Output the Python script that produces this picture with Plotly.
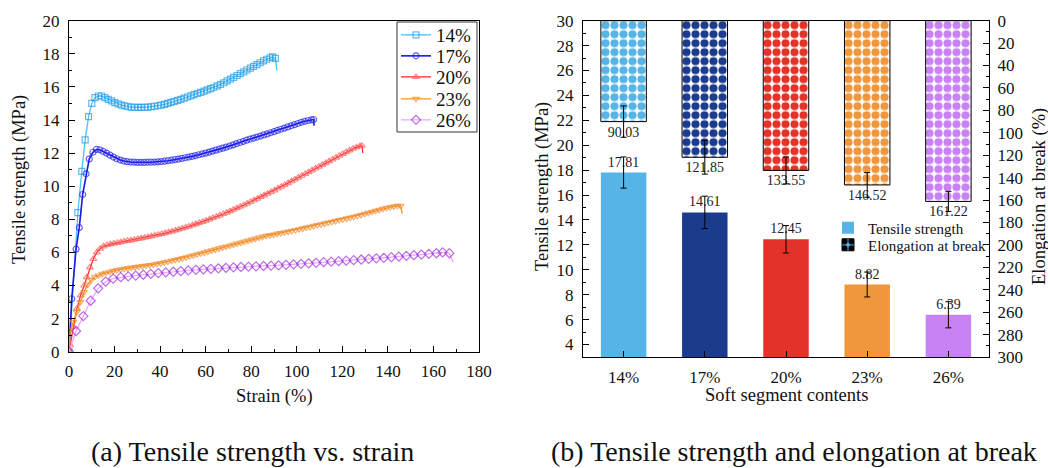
import plotly.graph_objects as go

W, H = 1048, 468
FONT = "Liberation Serif, Times New Roman, serif"

# ---------- (a) stress-strain curves ----------
strain_14 = [0, 3.9, 5.6, 7.1, 8.6, 10.0, 11.4, 12.9, 14.3, 15.8, 17.2, 18.7, 20.1, 21.6, 23.0, 24.5,
             25.9, 27.4, 28.8, 30.3, 31.7, 33.2, 34.6, 36.1, 37.5, 39.0, 40.4, 41.9, 43.3, 44.8, 46.2,
             47.7, 49.1, 50.6, 52.0, 53.5, 54.9, 56.4, 57.8, 59.3, 60.7, 62.2, 63.6, 65.1, 66.5, 68.0,
             69.4, 70.9, 72.3, 73.8, 75.2, 76.7, 78.1, 79.6, 81.0, 82.5, 83.9, 85.4, 86.8, 88.3, 89.4,
             90.6, 91.3]
stress_14 = [0, 8.4, 10.9, 12.8, 14.2, 15.0, 15.35, 15.45, 15.45, 15.35, 15.25, 15.15, 15.05, 14.97,
             14.9, 14.85, 14.8, 14.78, 14.77, 14.76, 14.76, 14.77, 14.78, 14.8, 14.83, 14.86, 14.9,
             14.95, 15.0, 15.06, 15.12, 15.18, 15.25, 15.32, 15.39, 15.46, 15.53, 15.6, 15.67, 15.74,
             15.82, 15.9, 15.98, 16.06, 16.15, 16.25, 16.36, 16.47, 16.58, 16.69, 16.8, 16.91, 17.02,
             17.13, 17.24, 17.35, 17.46, 17.57, 17.67, 17.76, 17.81, 17.72, 17.0]

strain_17 = [0, 1.2, 3.1, 4.5, 6.0, 7.5, 8.9, 10.5, 12.0, 13.5, 15.0, 16.5, 18.0, 19.5, 21.0, 22.5,
             24.0, 25.5, 27.0, 28.5, 30.0, 31.5, 33.0, 34.5, 36.0, 37.5, 39.0, 40.5, 42.0, 43.5, 45.0,
             46.5, 48.0, 49.5, 51.0, 52.5, 54.0, 55.5, 57.0, 58.5, 60.0, 61.5, 63.0, 64.5, 66.0, 67.5,
             69.0, 70.5, 72.0, 73.5, 75.0, 76.5, 78.0, 79.5, 81.0, 82.5, 84.0, 85.5, 87.0, 88.5, 90.0,
             91.5, 93.0, 94.5, 96.0, 97.5, 99.0, 100.5, 102.0, 103.5, 105.0, 106.5, 107.4, 107.6]
stress_17 = [0, 3.2, 6.2, 7.5, 9.5, 10.75, 11.65, 12.05, 12.22, 12.2, 12.1, 12.0, 11.88, 11.76, 11.66,
             11.58, 11.52, 11.48, 11.46, 11.45, 11.44, 11.44, 11.44, 11.45, 11.45, 11.46, 11.47, 11.49,
             11.51, 11.54, 11.57, 11.6, 11.64, 11.68, 11.72, 11.76, 11.8, 11.85, 11.9, 11.95, 12.0,
             12.06, 12.12, 12.18, 12.24, 12.3, 12.36, 12.43, 12.5, 12.57, 12.64, 12.71, 12.78, 12.85,
             12.91, 12.97, 13.03, 13.1, 13.16, 13.23, 13.3, 13.37, 13.44, 13.51, 13.58, 13.65, 13.72,
             13.79, 13.86, 13.92, 13.97, 14.01, 14.03, 13.65]

strain_20 = [0, 0.5, 1.9, 3.5, 5.1, 6.6, 7.8, 9.2, 10.7, 12.2, 13.7, 15.2, 16.7, 18.2, 19.7, 21.2,
             22.7, 24.2, 25.7, 27.2, 28.7, 30.2, 31.7, 33.2, 34.7, 36.2, 37.7, 39.2, 40.7, 42.2, 43.7,
             45.2, 46.7, 48.2, 49.7, 51.2, 52.7, 54.2, 55.7, 57.2, 58.7, 60.2, 61.7, 63.2, 64.7, 66.2,
             67.7, 69.2, 70.7, 72.2, 73.7, 75.2, 76.7, 78.2, 79.7, 81.2, 82.7, 84.2, 85.7, 87.2, 88.7,
             90.2, 91.7, 93.2, 94.7, 96.2, 97.7, 99.2, 100.7, 102.2, 103.7, 105.2, 106.7, 108.2, 109.7,
             111.2, 112.7, 114.2, 115.7, 117.2, 118.7, 120.2, 121.7, 123.2, 124.7, 126.2, 127.7, 128.6,
             129.0]
stress_20 = [0, 0.4, 1.5, 2.6, 3.4, 4.0, 4.5, 5.1, 5.6, 6.0, 6.22, 6.37, 6.45, 6.5, 6.54, 6.58, 6.62,
             6.66, 6.7, 6.73, 6.77, 6.81, 6.85, 6.89, 6.93, 6.97, 7.02, 7.07, 7.12, 7.17, 7.22, 7.27,
             7.33, 7.39, 7.45, 7.51, 7.57, 7.64, 7.71, 7.78, 7.85, 7.92, 8.0, 8.08, 8.16, 8.24, 8.32,
             8.4, 8.49, 8.58, 8.67, 8.76, 8.85, 8.95, 9.05, 9.15, 9.25, 9.35, 9.45, 9.55, 9.65, 9.75,
             9.86, 9.97, 10.08, 10.19, 10.3, 10.41, 10.52, 10.63, 10.74, 10.85, 10.96, 11.07, 11.18,
             11.29, 11.4, 11.51, 11.62, 11.73, 11.84, 11.95, 12.06, 12.17, 12.27, 12.36, 12.42, 12.45,
             12.0]

strain_23 = [0, 0.4, 1.9, 3.4, 5.0, 6.6, 8.2, 9.8, 11.4, 13.0, 14.6, 16.2, 17.8, 19.4, 21.0, 22.6,
             24.2, 25.8, 27.4, 29.0, 30.6, 32.2, 33.8, 35.4, 37.0, 38.6, 40.2, 41.8, 43.4, 45.0, 46.6,
             48.2, 49.8, 51.4, 53.0, 54.6, 56.2, 57.8, 59.4, 61.0, 62.6, 64.2, 65.8, 67.4, 69.0, 70.6,
             72.2, 73.8, 75.4, 77.0, 78.6, 80.2, 81.8, 83.4, 85.0, 86.6, 88.2, 89.8, 91.4, 93.0, 94.6,
             96.2, 97.8, 99.4, 101.0, 102.6, 104.2, 105.8, 107.4, 109.0, 110.6, 112.2, 113.8, 115.4,
             117.0, 118.6, 120.2, 121.8, 123.4, 125.0, 126.6, 128.2, 129.8, 131.4, 133.0, 134.6, 136.2,
             137.8, 139.4, 141.0, 142.6, 144.2, 145.6, 146.3]
stress_23 = [0, 1.1, 1.8, 2.4, 3.0, 3.6, 4.05, 4.35, 4.52, 4.62, 4.7, 4.77, 4.83, 4.88, 4.93, 4.97,
             5.01, 5.05, 5.08, 5.11, 5.14, 5.17, 5.2, 5.23, 5.27, 5.31, 5.35, 5.4, 5.45, 5.5, 5.55, 5.6,
             5.65, 5.7, 5.76, 5.82, 5.88, 5.94, 6.0, 6.06, 6.12, 6.18, 6.24, 6.3, 6.35, 6.41, 6.47, 6.53,
             6.59, 6.65, 6.71, 6.77, 6.83, 6.9, 6.95, 7.0, 7.04, 7.08, 7.13, 7.17, 7.21, 7.25, 7.3, 7.35,
             7.4, 7.45, 7.5, 7.55, 7.6, 7.65, 7.7, 7.75, 7.8, 7.85, 7.9, 7.95, 8.0, 8.05, 8.1, 8.15,
             8.21, 8.27, 8.33, 8.39, 8.45, 8.51, 8.57, 8.63, 8.69, 8.74, 8.78, 8.81, 8.82, 8.35]

strain_26 = [0, 3.1, 6.3, 9.5, 12.8, 16.1, 19.4, 22.7, 26.0, 29.3, 32.6, 35.9, 39.2, 42.5, 45.8, 49.1,
             52.4, 55.7, 59.0, 62.3, 65.6, 68.9, 72.2, 75.5, 78.8, 82.1, 85.4, 88.7, 92.0, 95.3, 98.6,
             101.9, 105.2, 108.5, 111.8, 115.1, 118.4, 121.7, 125.0, 128.3, 131.6, 134.9, 138.2, 141.5,
             144.8, 148.1, 151.4, 154.7, 158.0, 161.3, 164.0, 167.0, 168.6]
stress_26 = [0, 1.25, 2.15, 3.08, 3.83, 4.24, 4.42, 4.5, 4.55, 4.6, 4.65, 4.7, 4.75, 4.79, 4.83, 4.87,
             4.91, 4.95, 4.98, 5.01, 5.04, 5.07, 5.1, 5.12, 5.14, 5.16, 5.18, 5.2, 5.22, 5.25, 5.28,
             5.31, 5.34, 5.37, 5.41, 5.44, 5.47, 5.5, 5.53, 5.57, 5.61, 5.64, 5.67, 5.71, 5.75, 5.79,
             5.83, 5.87, 5.91, 5.95, 6.0, 5.95, 5.4]

curve_names = ["14%", "17%", "20%", "23%", "26%"]

# ---------- (b) summary bars ----------
contents = ["14%", "17%", "20%", "23%", "26%"]
tensile_strength = [17.81, 14.61, 12.45, 8.82, 6.39]
tensile_err = [1.25, 1.3, 1.1, 1.0, 1.05]
elongation = [90.03, 121.85, 133.55, 146.52, 161.22]
elongation_err = [14, 15, 12, 11, 9]

# ---------- styling ----------
line_colors = ["#52BEF5", "#1A1AE6", "#FF3030", "#FF9A1A", "#EFA8FF"]
marker_colors = ["#1E9BE8", "#2323F0", "#FF5A5A", "#F08A30", "#A030D8"]
symbols = ["square-open", "circle-open", "triangle-up-open", "triangle-down-open", "diamond-open"]
bar_colors = ["#56B4E6", "#1B3C8C", "#E33228", "#F0963C", "#C882F5"]


def px(x):
    return x / W


def py(y):
    return 1 - y / H


fig = go.Figure()

# one single-entry legend per curve so the rows can sit close together
curve_legends = ["legend", "legend2", "legend3", "legend4", "legend5"]
curve_legend_rows = [35, 56, 77, 99, 120]

curves = [(strain_14, stress_14), (strain_17, stress_17), (strain_20, stress_20),
          (strain_23, stress_23), (strain_26, stress_26)]
for i, (sx, sy) in enumerate(curves):
    # last point is the fracture drop, drawn as line only
    msize = 7 if i == 4 else 6
    sizes = [msize] * (len(sx) - 1) + [0]
    fig.add_trace(go.Scatter(
        x=sx, y=sy, name=curve_names[i], mode="lines+markers",
        line=dict(color=line_colors[i], width=1.6 if i == 1 else 1.3),
        marker=dict(symbol=symbols[i], size=sizes, color=marker_colors[i],
                    line=dict(width=1.2, color=marker_colors[i])),
        xaxis="x", yaxis="y", legend=curve_legends[i]))

fig.add_trace(go.Bar(
    x=contents, y=tensile_strength, name="Tensile strength",
    marker=dict(color=bar_colors, line=dict(width=0)),
    width=0.56, xaxis="x2", yaxis="y2", legend="legend6",
    error_y=dict(type="data", array=tensile_err, color="black", thickness=1, width=3),
    text=[f"{v:.2f}" for v in tensile_strength], textposition="outside",
    textfont=dict(family=FONT, size=14, color="#222"), constraintext="none", cliponaxis=False))

fig.add_trace(go.Bar(
    x=contents, y=elongation, name="Elongation at break",
    marker=dict(color=bar_colors, line=dict(width=1, color="black"),
                pattern=dict(shape=".", fgcolor="black", bgcolor=bar_colors, fillmode="replace",
                             size=9, solidity=0.64)),
    width=0.56, xaxis="x2", yaxis="y3", legend="legend7",
    error_y=dict(type="data", array=elongation_err, color="black", thickness=1, width=3),
    text=[f"{v:.2f}" for v in elongation], textposition="outside",
    textfont=dict(family=FONT, size=14, color="#222"), constraintext="none", cliponaxis=False))

axis_common = dict(showline=True, linecolor="black", linewidth=1.2, ticks="inside",
                   tickcolor="black", ticklen=6, tickwidth=1.2, showgrid=False, zeroline=False,
                   automargin=False, tickfont=dict(family=FONT, size=17, color="#111"))

annotations = [
    dict(text="Tensile strength (MPa)", x=px(20), y=py(180), textangle=-90, size=18.5),
    dict(text="Strain (%)", x=px(274), y=py(396), size=18.5),
    dict(text="Tensile strength (MPa)", x=px(542), y=py(187), textangle=-90, size=18.5),
    dict(text="Elongation at break (%)", x=px(1039), y=py(197), textangle=-90, size=18.5),
    dict(text="Soft segment contents", x=px(786), y=py(395), size=18.5),
    dict(text="(a) Tensile strength vs. strain", x=px(252), y=py(451), size=28),
    dict(text="(b) Tensile strength and elongation at break", x=px(794), y=py(451), size=28),
]
ann = []
for a in annotations:
    ann.append(dict(text=a["text"], x=a["x"], y=a["y"], xref="paper", yref="paper",
                    xanchor="center", yanchor="middle", showarrow=False,
                    textangle=a.get("textangle", 0),
                    font=dict(family=FONT, size=a["size"], color="#111")))

legends = {}
for name, row in zip(curve_legends, curve_legend_rows):
    legends[name] = dict(x=px(396), y=py(row), xanchor="left", yanchor="middle",
                         bgcolor="rgba(0,0,0,0)", borderwidth=0,
                         font=dict(family=FONT, size=19, color="#111"))
for name, row in (("legend6", 228), ("legend7", 245)):
    legends[name] = dict(x=px(828), y=py(row), xanchor="left", yanchor="middle",
                         bgcolor="rgba(0,0,0,0)", borderwidth=0,
                         font=dict(family=FONT, size=15, color="#111"))

fig.update_layout(
    template="none",
    width=W, height=H, margin=dict(l=0, r=0, t=0, b=0, autoexpand=False),
    paper_bgcolor="white", plot_bgcolor="white",
    barmode="overlay",
    font=dict(family=FONT, color="#111"),
    xaxis=dict(domain=[px(69), px(479)], range=[0, 180], dtick=20, anchor="y", mirror=True,
               minor=dict(dtick=10, ticks="inside", ticklen=3, tickcolor="black"),
               ticklabelstandoff=4, **axis_common),
    yaxis=dict(domain=[py(351.7), py(20.7)], range=[0, 20], dtick=2, anchor="x", mirror=True,
               minor=dict(dtick=1, ticks="inside", ticklen=3, tickcolor="black"),
               ticklabelstandoff=5, **axis_common),
    xaxis2=dict(domain=[px(583), px(989)], type="category", range=[-0.5, 4.5], anchor="y2",
                mirror=True, ticklabelstandoff=4, **axis_common),
    yaxis2=dict(domain=[py(357), py(20.7)], range=[3, 30], tick0=4, dtick=2, anchor="x2",
                minor=dict(dtick=1, ticks="inside", ticklen=3, tickcolor="black"),
                ticklabelstandoff=5, **axis_common),
    yaxis3=dict(range=[300, 0], dtick=20, anchor="x2", overlaying="y2", side="right",
                minor=dict(dtick=10, ticks="inside", ticklen=3, tickcolor="black"),
                ticklabelstandoff=4, **axis_common),
    shapes=[dict(type="rect", xref="paper", yref="paper", x0=px(397), x1=px(477),
                 y0=py(132), y1=py(22), line=dict(color="#333", width=1),
                 fillcolor="white", layer="above")],
    annotations=ann,
    showlegend=True,
    **legends,
)

fig.write_html("out.html")
